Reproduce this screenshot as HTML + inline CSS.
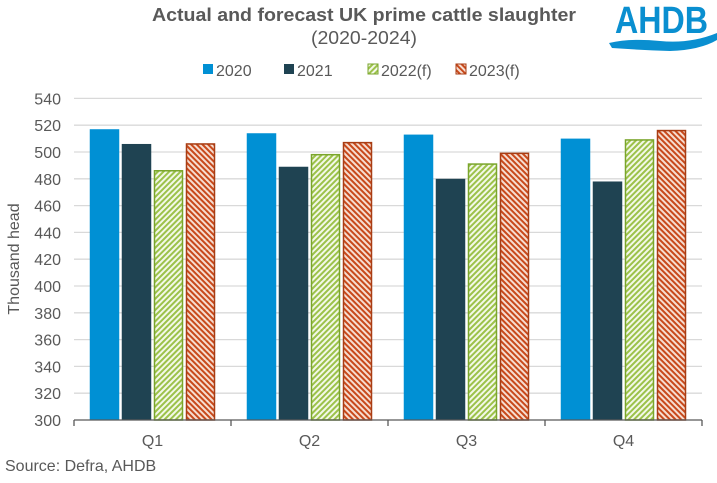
<!DOCTYPE html>
<html><head><meta charset="utf-8"><style>
body{margin:0;background:#fff;font-family:"Liberation Sans",Arial,sans-serif;}
svg text{font-family:"Liberation Sans",Arial,sans-serif;}
</style></head><body>
<svg id="chart" width="717" height="478" viewBox="0 0 717 478">
<defs>
<pattern id="hg" patternUnits="userSpaceOnUse" width="4" height="4" patternTransform="rotate(45)">
<rect width="4" height="4" fill="#f3f8e8"/><rect width="2" height="4" fill="#9cc24a"/></pattern>
<pattern id="hr" patternUnits="userSpaceOnUse" width="4" height="4" patternTransform="rotate(-45)">
<rect width="4" height="4" fill="#f6ddd0"/><rect width="2" height="4" fill="#c8491b"/></pattern>
</defs>
<text x="364" y="21" text-anchor="middle" font-size="18" font-weight="bold" fill="#595959" textLength="424" lengthAdjust="spacingAndGlyphs">Actual and forecast UK prime cattle slaughter</text>
<text x="364" y="44" text-anchor="middle" font-size="18" fill="#595959" textLength="106" lengthAdjust="spacingAndGlyphs">(2020-2024)</text>
<g>
<text x="615" y="33" font-size="38" font-weight="bold" fill="#0a8fd0" textLength="93" lengthAdjust="spacingAndGlyphs">AHDB</text>
<path d="M609 43 Q630 38 660 41 Q690 44 717 33 L717 40 Q700 50 670 51 Q640 50 612 48 Z" fill="#0a8fd0"/>
</g>
<g id="legend"></g>
<g id="grid"></g><g id="bars"></g><g id="axes"></g>
<text transform="translate(19,259) rotate(-90)" text-anchor="middle" font-size="16" fill="#595959">Thousand head</text>
<text x="5" y="471" font-size="16" fill="#595959">Source: Defra, AHDB</text>
</svg>
<script>
const categories=["Q1","Q2","Q3","Q4"];
const seriesNames=["2020","2021","2022(f)","2023(f)"];
const s2020=[517,514,513,510];
const s2021=[506,489,480,478];
const s2022=[486,498,491,509];
const s2023=[506,507,499,516];
const yTicks=[300,320,340,360,380,400,420,440,460,480,500,520,540];
const series=[s2020,s2021,s2022,s2023];
const fills=["#0090d4","#1f4352","url(#hg)","url(#hr)"];
const strokes=["none","none","#7aa52c","#a83d14"];
const NS="http://www.w3.org/2000/svg";
const L=74,R=702,T=98.4,B=420,ymin=300,ymax=540;
const y=v=>B-(v-ymin)/(ymax-ymin)*(B-T);
const cw=(R-L)/categories.length,bw=29.5,gap=2.5;
function mk(t,a,p){const e=document.createElementNS(NS,t);for(const k in a)e.setAttribute(k,a[k]);p.appendChild(e);return e;}
const grid=document.getElementById('grid'),bars=document.getElementById('bars'),axes=document.getElementById('axes'),leg=document.getElementById('legend');
yTicks.forEach(v=>{
 if(v>ymin){const g=mk('line',{x1:L,x2:R,y1:y(v),y2:y(v),stroke:'#d9d9d9','stroke-width':1.3},grid);
 
 }
 const t=mk('text',{x:61,y:y(v)+6,'text-anchor':'end','font-size':16,fill:'#595959'},axes);t.textContent=v;
 
 
});
const ax=mk('line',{x1:L,x2:R,y1:B,y2:B,stroke:'#595959','stroke-width':1.3},axes);


for(let i=0;i<=categories.length;i++){const tk=mk('line',{x1:L+i*cw,x2:L+i*cw,y1:B,y2:B+6,stroke:'#595959','stroke-width':1.3},axes);
 
 }
const gw=4*bw+3*gap;
categories.forEach((c,i)=>{
 const cx=L+cw*i+cw/2;
 const t=mk('text',{x:cx,y:446,'text-anchor':'middle','font-size':16,fill:'#595959'},axes);t.textContent=c;
 
 
 series.forEach((s,j)=>{
  const x=cx-gw/2+j*(bw+gap);
  const r=mk('rect',{x:x+(strokes[j]!='none'?0.75:0),y:y(s[i]),width:bw-(strokes[j]!='none'?1.5:0),height:B-y(s[i]),fill:fills[j],stroke:strokes[j],'stroke-width':1.5},bars);
  
  
 });
});
const lx=[203,284,368,456];
seriesNames.forEach((n,j)=>{
 const r=mk('rect',{x:lx[j],y:64,width:10,height:10,fill:fills[j],stroke:strokes[j],'stroke-width':1},leg);
 
 
 const t=mk('text',{x:lx[j]+13,y:76,'font-size':16,fill:'#595959'},leg);t.textContent=n;
 
 
});
</script>
</body></html>
